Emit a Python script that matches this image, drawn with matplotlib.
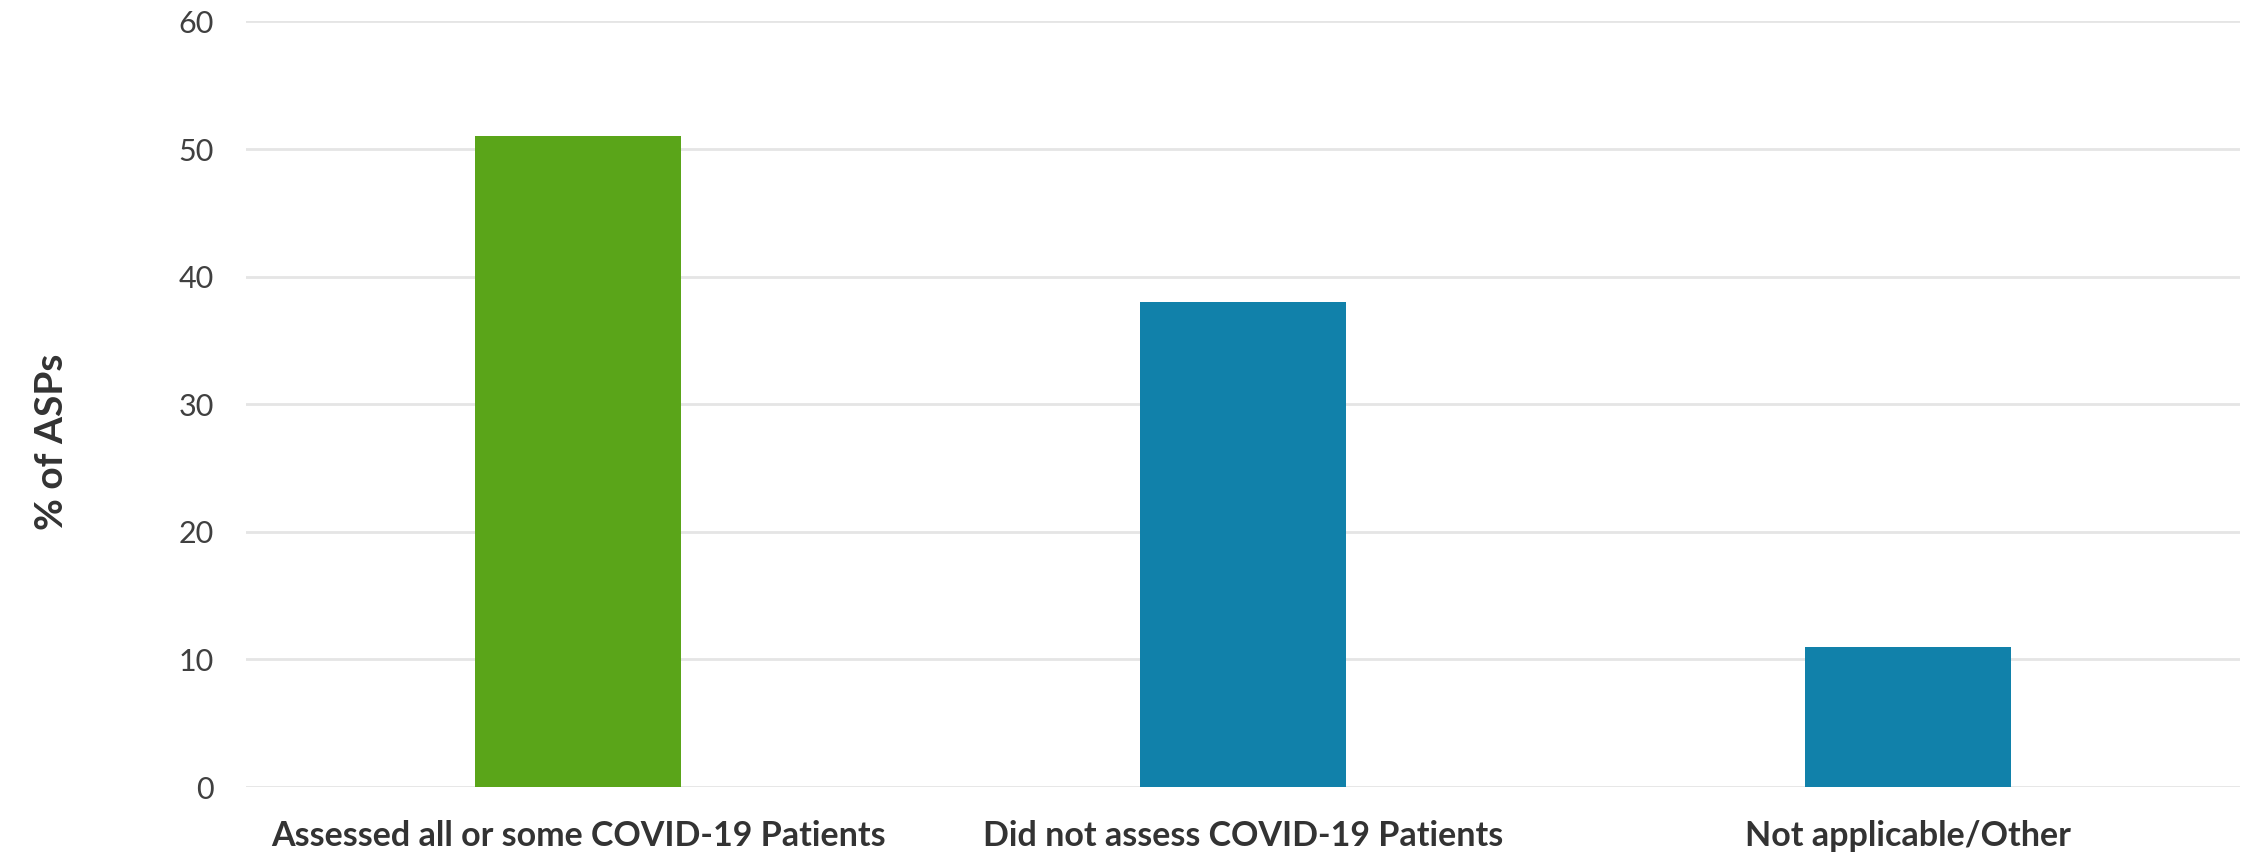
import matplotlib
matplotlib.use("Agg")
import matplotlib.pyplot as plt

categories = ["Assessed all or some COVID-19 Patients",
              "Did not assess COVID-19 Patients",
              "Not applicable/Other"]
values = [51, 38, 11]
bar_colors = ["#5AA519", "#1181AA", "#1181AA"]
y_ticks = [0, 10, 20, 30, 40, 50, 60]
y_label = "% of ASPs"

plt.rcParams["font.family"] = ["Lato", "DejaVu Sans"]

fig = plt.figure(figsize=(22.52, 8.56), dpi=100)
ax = fig.add_axes([0.1092, 0.0806, 0.8855, 0.8943])

x = range(len(categories))
ax.bar(x, values, width=0.31, color=bar_colors, zorder=3)

ax.set_xlim(-0.5, len(categories) - 0.5)
ax.set_ylim(0, 60)
ax.set_yticks(y_ticks)
ax.set_xticks(list(x))
ax.set_xticklabels(categories, fontsize=24.5, fontweight="bold", color="#333333")
ax.tick_params(axis="x", length=0, pad=24)
ax.tick_params(axis="y", length=0, pad=23, labelsize=22, labelcolor="#404040")

ax.grid(axis="y", color="#E5E5E5", linewidth=2, zorder=0)
ax.set_axisbelow(True)
for s in ax.spines.values():
    s.set_visible(False)

fig.text(0.023, 0.484, y_label, rotation=90, ha="center", va="center",
         fontsize=28, fontweight="bold", color="#333333")

fig.savefig("out.png", dpi=100, facecolor="white")
